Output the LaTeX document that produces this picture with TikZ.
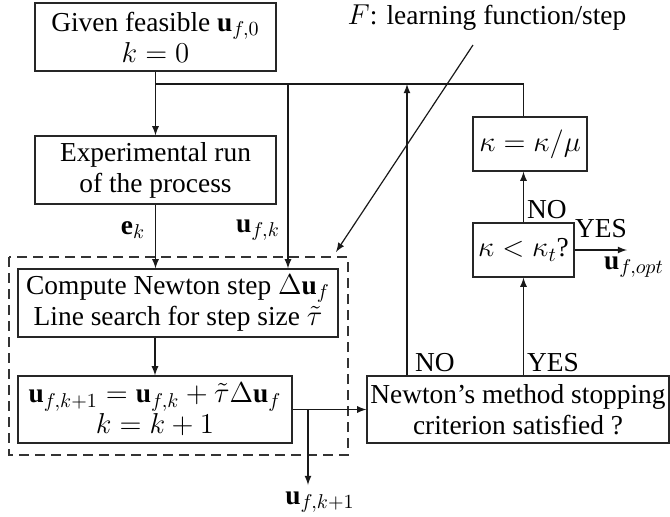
\documentclass[tikz,border=0pt]{standalone}
\usepackage{fontspec}
\setmainfont{Liberation Serif}
\usetikzlibrary{calc}
\begin{document}
\begin{tikzpicture}[x=0.5pt,y=-0.5pt,
  every node/.style={font=\fontsize{13.7}{15.5}\selectfont},
  box/.style={draw=black!85, line width=0.6pt, align=center, inner sep=0pt},
  conn/.style={line width=0.6pt, draw=black!90},
  arr/.style={conn, -latex},
  frame/.style={draw=black!80, line width=0.6pt, dash pattern=on 5pt off 3pt},
  lbl/.style={inner sep=0pt}]
\useasboundingbox (0,0) rectangle (670,516);
% nodes
\node[box, minimum width=120.5pt, minimum height=34pt] (b1) at (155.5,37) {Given feasible $\mathbf{u}_{f,0}$\\$k=0$};
\node[box, minimum width=120.5pt, minimum height=34pt] (exp) at (155.5,170) {Experimental run\\of the process};
\node[box, minimum width=160pt, minimum height=34pt] (comp) at (178,303) {Compute Newton step $\Delta\mathbf{u}_f$\\Line search for step size $\tilde\tau$};
\node[box, minimum width=137pt, minimum height=33.5pt] (upd) at (155,409.5) {$\mathbf{u}_{f,k+1}=\mathbf{u}_{f,k}+\tilde\tau\Delta\mathbf{u}_f$\\$k=k+1$};
\node[box, minimum width=151pt, minimum height=33.5pt] (newt) at (518,409.5) {Newton's method stopping\\criterion satisfied ?};
\node[box, minimum width=50.5pt, minimum height=27pt] (kt) at (523.5,250) {$\kappa<\kappa_t$?};
\node[box, minimum width=57pt, minimum height=27pt] (kap) at (530,144) {$\kappa=\kappa/\mu$};
% dashed frame
\coordinate (fr1) at (9,257);
\coordinate (fr2) at (348,455);
\draw[frame] (fr1) rectangle (fr2);
% labels
\node[lbl] (lek) at (133,230) {$\mathbf{e}_k$};
\node[lbl] (lufk) at (258,230) {$\mathbf{u}_{f,k}$};
\node[lbl] (lno1) at (435,363) {NO};
\node[lbl] (lyes1) at (553,363) {YES};
\node[lbl] (lno2) at (547,210) {NO};
\node[lbl] (lyes2) at (601,229) {YES};
\node[lbl] (lopt) at (634,267) {$\mathbf{u}_{f,opt}$};
\node[lbl] (lkp1) at (320,502) {$\mathbf{u}_{f,k+1}$};
\node[lbl] (lF) at (487,18) {$F$: learning function/step};
% coordinates
\coordinate (j1) at (155.5,84);
\coordinate (j2) at (288,84);
\coordinate (j3) at (407,84);
\coordinate (j4) at (523.5,84);
\coordinate (br) at (308,409.5);
\coordinate (kout) at (627,250);
\coordinate (fa) at (473,45);
\coordinate (fb) at (336,252);
% connectors
\draw[arr] (b1.south) -- (exp.north);
\draw[conn] (j1) -- (j4) -- (kap.north -| j4);
\draw[arr] (j2) -- (j2 |- comp.north);
\draw[arr] (exp.south) -- (exp.south |- comp.north);
\draw[arr] (upd.north |- comp.south) -- (upd.north);
\draw[arr] (upd.east) -- (newt.west);
\draw[arr] (br) -- (308,485);
\draw[arr] (newt.north -| j3) -- (j3);
\draw[arr] (newt.north -| kt.south) -- (kt.south);
\draw[arr] (kt.north) -- (kt.north |- kap.south);
\draw[arr] (kt.east) -- (kout);
\draw[arr] (fa) -- (fb);
\end{tikzpicture}
\end{document}
